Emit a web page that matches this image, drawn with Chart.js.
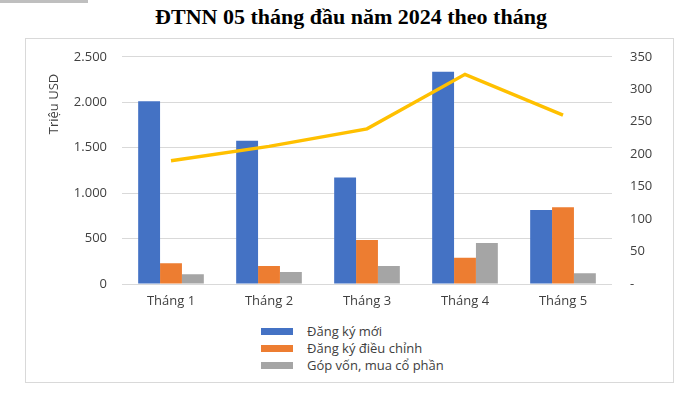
<!DOCTYPE html>
<html>
<head>
<meta charset="utf-8">
<script src="https://cdn.jsdelivr.net/npm/chart.js@4.4.1/dist/chart.umd.min.js"></script>
<style>
  body { margin: 0; background: #fff; width: 692px; height: 395px; position: relative; overflow: hidden; }
  #topbar { position: absolute; left: 0; top: 0; width: 88px; height: 3px; background: #bfbfbf; }
  #title { position: absolute; left: 0; top: 4px; width: 702px; text-align: center;
    font-family: "Liberation Serif", serif; font-weight: bold; font-size: 22px; color: #000; }
  #box { position: absolute; left: 25px; top: 38px; width: 647px; height: 343px; border: 1px solid #d9d9d9; }
  #wrap { position: absolute; left: 0; top: -8px; width: 647px; height: 284px; }
  #legend { position: absolute; left: 235px; top: 284px; font-family: "Open Sans", sans-serif; font-size: 13px; color: #404040; }
  .item { height: 17px; line-height: 17px; white-space: nowrap; }
  .sw { display: inline-block; width: 32px; height: 7px; margin-right: 14px; vertical-align: middle; position: relative; top: -1px; }
</style>
</head>
<body>
<div id="topbar"></div>
<div id="title">ĐTNN 05 tháng đầu năm 2024 theo tháng</div>
<div id="box">
  <div id="wrap"><canvas id="chart"></canvas></div>
  <div id="legend"></div>
</div>
<script>
var months = ['Tháng 1', 'Tháng 2', 'Tháng 3', 'Tháng 4', 'Tháng 5'];
var dangKyMoi = [2010, 1575, 1171, 2335, 815];
var dieuChinh = [228, 198, 485, 290, 845];
var gopVon = [107, 132, 198, 452, 118];
var soDuAn = [190, 212, 239, 323, 260];   // right axis, line
var leftTicks = [0, 500, 1000, 1500, 2000, 2500];
var rightTicks = [0, 50, 100, 150, 200, 250, 300, 350];

var barSeries = [
    { label: 'Đăng ký mới', data: dangKyMoi, color: '#4472C4' },
    { label: 'Đăng ký điều chỉnh', data: dieuChinh, color: '#ED7D31' },
    { label: 'Góp vốn, mua cổ phần', data: gopVon, color: '#A5A5A5' }
];

var tickFont = { family: 'Open Sans', size: 13 };
var fmt = function (v) { return v.toString().replace(/\B(?=(\d{3})+(?!\d))/g, '.'); };

var datasets = [];
datasets.push({
    type: 'line', label: 'Số dự án', data: soDuAn, yAxisID: 'y1',
    borderColor: '#FFC000', borderWidth: 3.5, pointRadius: 0, tension: 0, order: 0
});
barSeries.forEach(function (s) {
    datasets.push({
        type: 'bar', label: s.label, data: s.data, yAxisID: 'y',
        backgroundColor: s.color, barPercentage: 1, categoryPercentage: 0.67, order: 1
    });
});

// rotated axis title, placed high like in the original
var axisTitle = {
    id: 'axisTitle',
    afterDraw: function (chart) {
        var ctx = chart.ctx;
        ctx.save();
        ctx.translate(28, 73);
        ctx.rotate(-Math.PI / 2);
        ctx.fillStyle = '#404040';
        ctx.font = '13px "Open Sans"';
        ctx.textAlign = 'center';
        ctx.textBaseline = 'middle';
        ctx.fillText('Triệu USD', 0, 0);
        ctx.restore();
    }
};

new Chart(document.getElementById('chart'), {
    data: { labels: months, datasets: datasets },
    plugins: [axisTitle],
    options: {
        responsive: true,
        maintainAspectRatio: false,
        animation: false,
        layout: { padding: { top: 10, left: 0, right: 0, bottom: 0 } },
        plugins: { legend: { display: false }, tooltip: { enabled: false } },
        scales: {
            x: {
                grid: { display: false, drawTicks: false },
                border: { display: false },
                ticks: { color: '#404040', font: tickFont, padding: 9 },
                afterFit: function (a) { a.height = 31; }
            },
            y: {
                position: 'left', min: 0, max: 2500,
                afterBuildTicks: function (a) { a.ticks = leftTicks.map(function (v) { return { value: v }; }); },
                grid: { color: '#d9d9d9', drawTicks: false, lineWidth: 1 },
                border: { display: false },
                ticks: { color: '#404040', font: tickFont, padding: 15, callback: function (v) { return fmt(v); } },
                afterFit: function (a) { a.width = 96; }
            },
            y1: {
                position: 'right', min: 0, max: 350,
                afterBuildTicks: function (a) { a.ticks = rightTicks.map(function (v) { return { value: v }; }); },
                grid: { display: false, drawTicks: false },
                border: { display: false },
                ticks: { color: '#404040', font: tickFont, padding: 18, callback: function (v) { return v === 0 ? '-' : v; } },
                afterFit: function (a) { a.width = 61; }
            }
        }
    }
});

var legendHtml = '';
barSeries.forEach(function (s) {
    legendHtml += '<div class="item"><span class="sw" style="background:' + s.color + '"></span>' + s.label + '</div>';
});
document.getElementById('legend').innerHTML = legendHtml;
</script>
</body>
</html>
